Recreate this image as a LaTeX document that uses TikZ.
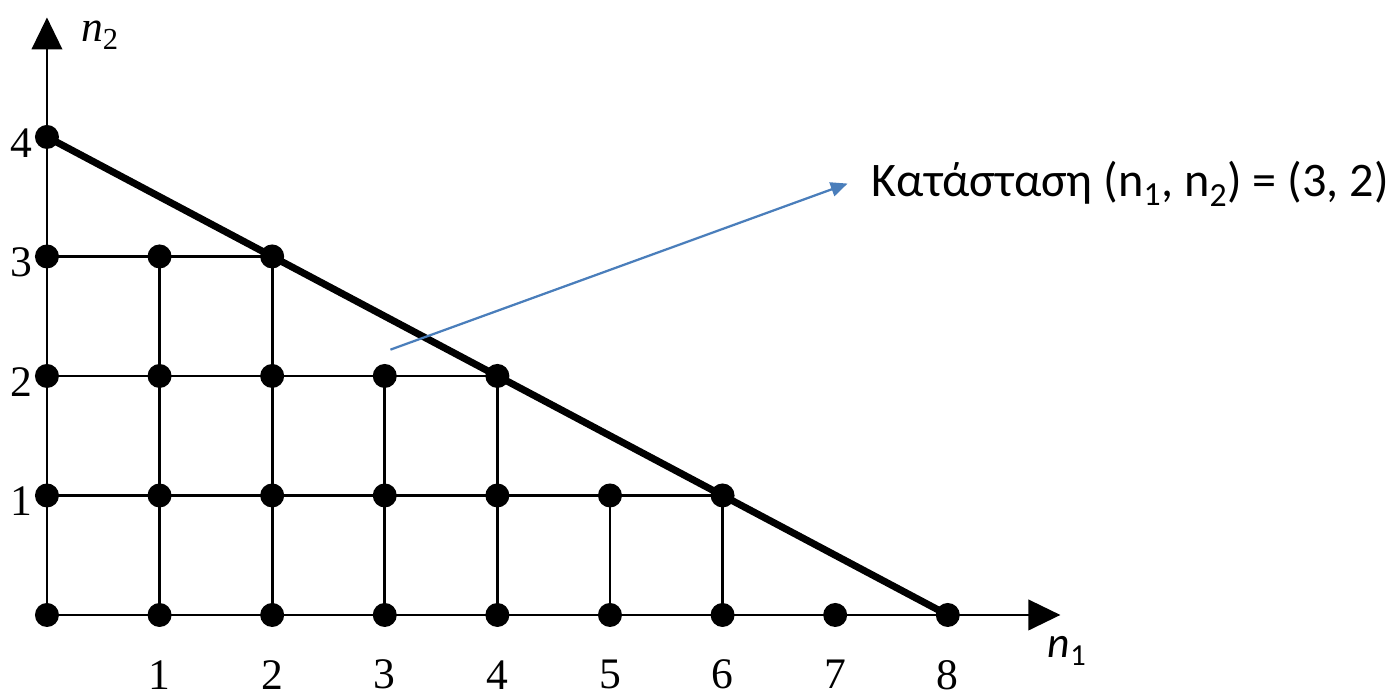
\documentclass[tikz,border=0pt]{standalone}
\usepackage{fontspec}
\setmainfont{Liberation Serif}
\newfontfamily\labelfont{Carlito}
\usetikzlibrary{arrows.meta,positioning,backgrounds}
\definecolor{PointerBlue}{HTML}{4A7EBB}
\tikzset{
  dot/.style={circle,fill=black,inner sep=0pt,minimum size=0.6cm},
  gridline/.style={line width=1.9pt},
  axis/.style={line width=1.9pt,-{Triangle[length=0.8cm,width=0.76cm]}},
  bound/.style={line width=5pt},
  tick/.style={inner sep=0pt,font=\fontsize{31}{36}\selectfont},
  pointer/.style={-{Triangle[length=0.42cm,width=0.36cm]},line width=1.6pt,
                  color=PointerBlue},
}

\begin{document}
\begin{tikzpicture}[x=2.815cm,y=2.9875cm]
  \useasboundingbox (-0.417,-0.678) rectangle (12.007,5.146);

  % lattice points with n1 + 2 n2 <= 8
  \foreach \j/\last in {0/8,1/6,2/4,3/2,4/0}
    \foreach \i in {0,...,\last}
      \node[dot] (p-\i-\j) at (\i,\j) {};

  \coordinate (xtip) at (9,0);
  \coordinate (ytip) at (0,5);

  \begin{scope}[on background layer]
    \draw[axis] (p-0-0.center) -- (xtip);
    \draw[axis] (p-0-0.center) -- (ytip);
    \foreach \j/\last in {1/6,2/4,3/2}
      \draw[gridline] (p-0-\j.center) -- (p-\last-\j.center);
    \foreach \i/\top in {1/3,2/3,3/2,4/2,5/1,6/1}
      \draw[gridline] (p-\i-0.center) -- (p-\i-\top.center);
    \draw[bound] (p-0-4.center) -- (p-8-0.center);
  \end{scope}

  % axis ticks and names
  \foreach \i in {1,...,8}
    \node[tick] (tx-\i) at (\i,-0.5) {\i};
  \foreach \j in {1,...,4}
    \node[tick,anchor=east] (ty-\j) at (-0.13,\j-0.05) {\j};
  \node[tick] (n2lab) at (0.47,4.85) {\textit{n}\textsubscript{2}};
  \node[tick] (n1lab) at (9.06,-0.3) {\labelfont\textit{n}\textsubscript{1}};

  % marked state
  \node[anchor=west,inner xsep=0.6cm,inner ysep=0pt,
        font=\labelfont\fontsize{34.3}{40}\selectfont] (state) at (7.11,3.61)
    {Κατάσταση (n\textsubscript{1}, n\textsubscript{2}) = (3, 2)};
  \coordinate (from) at (3.05,2.22);
  \draw[pointer] (from) -- (state.west);

\end{tikzpicture}
\end{document}
